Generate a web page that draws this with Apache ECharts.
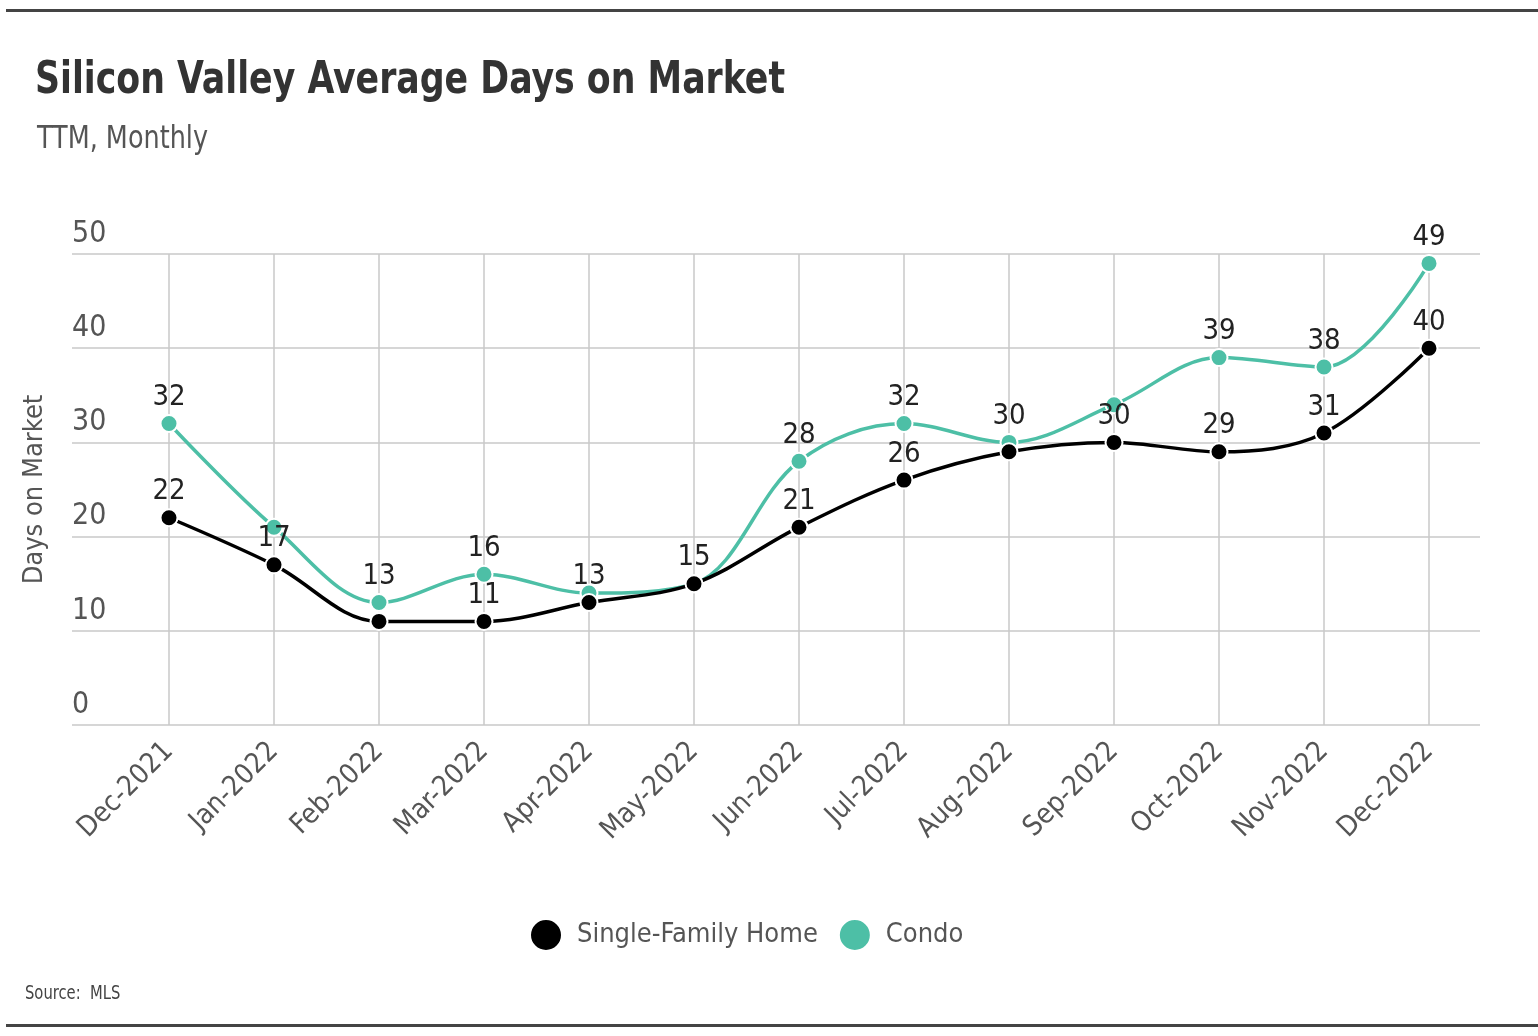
<!DOCTYPE html>
<html>
<head>
<meta charset="utf-8">
<script src="https://cdn.jsdelivr.net/npm/echarts@6/dist/echarts.min.js"></script>
<style>
html,body{margin:0;padding:0;background:#fff;}
#chart{width:1538px;height:1036px;}
</style>
</head>
<body>
<div id="chart"></div>
<script>
const months = ['Dec-2021','Jan-2022','Feb-2022','Mar-2022','Apr-2022','May-2022','Jun-2022','Jul-2022','Aug-2022','Sep-2022','Oct-2022','Nov-2022','Dec-2022'];
const singleFamily = [22,17,11,11,13,15,21,26,29,30,29,31,40];
const condo = [32,21,13,16,14,15,28,32,30,34,39,38,49];
const yTicks = [0,10,20,30,40,50];
// value labels left unprinted in the reference (overlapping ones)
const sfhHiddenLabels = [2, 8];
const condoHiddenLabels = [1, 4, 5, 9];

const FONT = '"DejaVu Sans Condensed","DejaVu Sans",sans-serif';
const chart = echarts.init(document.getElementById('chart'));

function fitScale(text, font, targetWidth) {
  const c = document.createElement('canvas').getContext('2d');
  c.font = font;
  return targetWidth / c.measureText(text).width;
}
const titleText = 'Silicon Valley Average Days on Market';
const titleFont = 'bold 44px ' + FONT;
const titleScale = fitScale(titleText, titleFont, 750);
const subText = 'TTM, Monthly';
const subFont = '32px ' + FONT;
const subScale = fitScale(subText, subFont, 171);

function mkSeries(name, data, hidden, color, z) {
  return {
    name: name, type: 'line', xAxisIndex: 1, yAxisIndex: 1, clip: false,
    data: data.map((v, i) => hidden.includes(i) ? {value: v, label: {show: false}} : v),
    smooth: 0.35, z: z,
    symbol: 'circle', symbolSize: 17,
    lineStyle: {color: color, width: 3.5},
    itemStyle: {color: color, borderColor: '#fff', borderWidth: 2},
    label: {show: true, position: 'top', distance: 2, fontFamily: FONT, fontSize: 29, color: '#222'},
    emphasis: {disabled: true}
  };
}

chart.setOption({
  animation: false,
  backgroundColor: '#fff',
  graphic: [
    {type: 'rect', shape: {x: 6, y: 9, width: 1532, height: 3}, style: {fill: '#444'}},
    {type: 'rect', shape: {x: 6, y: 1024, width: 1532, height: 3}, style: {fill: '#444'}},
    {type: 'text', x: 35, y: 82, scaleX: titleScale, style: {text: titleText, font: titleFont, fill: '#333', textVerticalAlign: 'middle'}},
    {type: 'text', x: 37, y: 140, scaleX: subScale, style: {text: subText, font: subFont, fill: '#555', textVerticalAlign: 'middle'}},
    {type: 'text', x: 25, y: 994, scaleX: 0.82, style: {text: 'Source:  MLS', font: '20px ' + FONT, fill: '#444', textVerticalAlign: 'middle'}}
  ],
  legend: {
    left: 524, top: 913, icon: 'circle', itemWidth: 32, itemHeight: 32, itemGap: 20,
    textStyle: {fontFamily: FONT, fontSize: 27, color: '#555', padding: [0, 0, 0, 10]},
    data: ['Single-Family Home', 'Condo']
  },
  grid: [
    {left: 72, right: 58, top: 254, bottom: 311},
    {left: 169, right: 109, top: 254, bottom: 311}
  ],
  xAxis: [
    {type: 'category', gridIndex: 0, data: months, show: false},
    {type: 'category', gridIndex: 1, data: months, boundaryGap: false,
     axisLine: {show: false}, axisTick: {show: false},
     splitLine: {show: true, interval: 0, lineStyle: {color: '#c8c8c8', width: 1.5}},
     axisLabel: {interval: 0, rotate: 45, margin: 22, fontFamily: FONT, fontSize: 28, color: '#555'}}
  ],
  yAxis: [
    {type: 'value', gridIndex: 0, min: 0, max: 50, interval: 10,
     axisLine: {show: false}, axisTick: {show: false},
     splitLine: {lineStyle: {color: '#c8c8c8', width: 1.5}},
     axisLabel: {inside: true, verticalAlign: 'bottom', align: 'left', margin: 0, padding: [0,0,5,0],
                 fontFamily: FONT, fontSize: 30, color: '#555',
                 formatter: v => yTicks.includes(v) ? String(v) : ''},
     name: 'Days on Market', nameLocation: 'middle', nameRotate: 90, nameGap: 24,
     nameTextStyle: {fontFamily: FONT, fontSize: 27, color: '#555'}},
    {type: 'value', gridIndex: 1, min: 0, max: 50, interval: 10, show: false}
  ],
  series: [
    {type: 'line', xAxisIndex: 0, yAxisIndex: 0, data: [], silent: true},
    mkSeries('Single-Family Home', singleFamily, sfhHiddenLabels, '#000000', 3),
    mkSeries('Condo', condo, condoHiddenLabels, '#4dbfa6', 2)
  ]
});
</script>
</body>
</html>
